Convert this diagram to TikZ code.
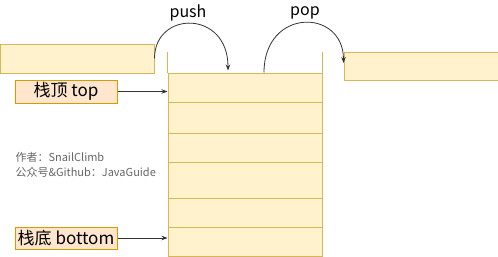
\documentclass[tikz,border=0pt]{standalone}
\usepackage{fontspec}
\setmainfont{Noto Sans CJK SC}
\usepackage{xcolor}
\usetikzlibrary{arrows.meta,positioning}
\definecolor{cellfill}{HTML}{FFF2CC}
\definecolor{celldraw}{HTML}{D6B656}
\definecolor{tagfill}{HTML}{FFE6CC}
\definecolor{tagdraw}{HTML}{D79B00}
\definecolor{notegray}{HTML}{666666}

\begin{document}
\begin{tikzpicture}[x=1pt,y=-1pt,
    cell/.style={draw=celldraw, fill=cellfill, line width=1pt, inner sep=0pt, minimum width=154pt},
    tag/.style={draw=tagdraw, fill=tagfill, line width=1pt, inner sep=0pt, minimum width=102pt,
      font=\fontsize{17}{17}\selectfont},
    link/.style={-{Stealth[length=6pt,width=4.5pt]}, line width=0.8pt, draw=black!80}]
    \useasboundingbox (0,0) rectangle (498,257);
    % stack cells
    \foreach \t/\b [count=\i] in {73/102,102/133,133/162,162/198,198/227,227/256}
        \node[cell, minimum height={\b-\t}] (c\i) at (245,{(\t+\b)/2}) {};
    \draw[celldraw, line width=1pt] (c1.north west) -- ++(0,-21);
    \draw[celldraw, line width=1pt] (c1.north east) -- ++(0,-21);
    % element in / out
    \node[cell, minimum height=29pt] (in) at (77,58.5) {};
    \node[cell, minimum height=28pt] (out) at (421,66) {};
    % top and bottom
    \node[tag, minimum height=23pt] (top) at (66,91.5) {栈顶 top};
    \node[tag, minimum height=22pt] (bottom) at (66,238) {栈底 bottom};
    \draw[link] (top.east) -- (top.east -| c1.west);
    \draw[link] (bottom.east) -- (bottom.east -| c6.west);
    % push and pop
    \draw[link] (in.east) .. controls +(0,-48) and +(0,-61) .. ([shift={(-17pt,2pt)}]c1.north);
    \draw[link] ([xshift=19pt]c1.north) .. controls +(0,-65) and +(0,-55) .. ([yshift=3pt]out.west);
    \node[font=\fontsize{16}{16}\selectfont] (pushlbl) at (188,13) {push};
    \node[font=\fontsize{16}{16}\selectfont] (poplbl) at (305,13) {pop};
    % note
    \node[anchor=west, align=left, text=notegray, font=\fontsize{11}{15}\selectfont] (note) at (12,164.5)
        {作者：SnailClimb\\公众号\&Github：JavaGuide};
\end{tikzpicture}
\end{document}
